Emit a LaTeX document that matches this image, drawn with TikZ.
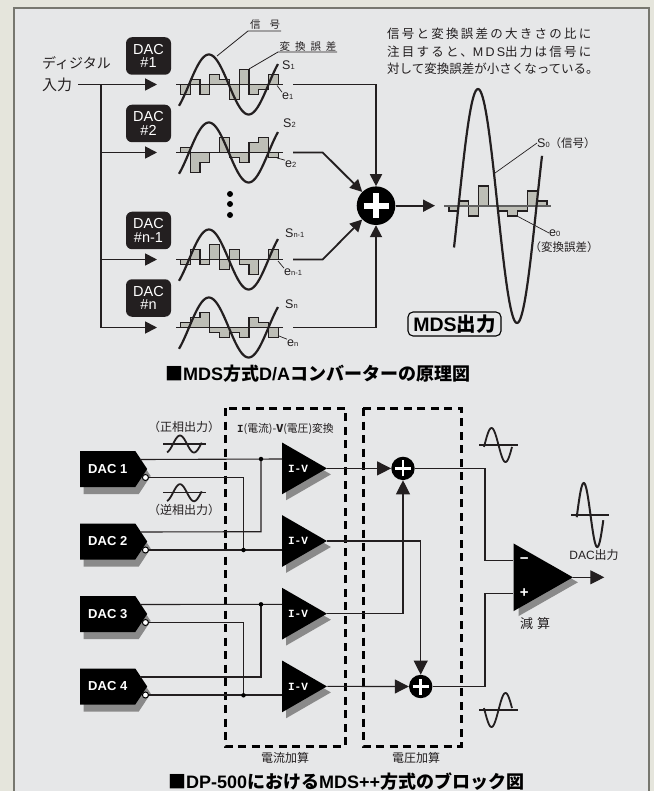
\documentclass[tikz,border=0pt]{standalone}
\usepackage{fontspec}
\setmainfont{Liberation Sans}
\setmonofont{Liberation Mono}
\newfontfamily\jp{Noto Sans CJK JP}
\newfontfamily\jpwide{Noto Sans CJK JP}[LetterSpace=18]
\newfontfamily\latinwide{Liberation Sans}[LetterSpace=18]
\usetikzlibrary{positioning, arrows.meta, shapes.geometric, shapes.symbols, shadows}
\definecolor{pagebg}{HTML}{E5E5DC}
\definecolor{panelbg}{HTML}{E6E7E8}
\definecolor{framecol}{HTML}{77776F}
\definecolor{barcol}{HTML}{BDBEB6}
\definecolor{inkcol}{HTML}{231F20}
\definecolor{shadowcol}{HTML}{8A8A8A}
\newcommand{\fs}[1]{\fontsize{#1}{#1}\selectfont}
\newcommand{\subsc}[1]{\raisebox{-0.5pt}{\fs{7.5}#1}}
\newcommand{\errsteps}[3]{
	\foreach \h [count=\i, remember=\h as \prev (initially 0)] in #3 {
		\fill[barcol] ({#1+(\i-1)*9.8},#2) rectangle ++(9.8,-\h);
		\draw[errline] ({#1+(\i-1)*9.8},{#2-\prev}) -- ({#1+(\i-1)*9.8},{#2-\h}) -- ({#1+\i*9.8},{#2-\h});
		\ifnum\i=10
			\draw[errline] ({#1+\i*9.8},{#2-\h}) -- ({#1+\i*9.8},#2);
		\fi
	}
}
\tikzstyle{wave}=[line width=2.2pt,inkcol,line join=round]
\tikzstyle{errline}=[draw=inkcol,line width=1.2pt,line cap=rect]
\tikzstyle{baseline}=[line width=1.2pt,inkcol]
\tikzstyle{sigline}=[line width=1.8pt,inkcol,line join=miter]
\tikzstyle{sigarrow}=[sigline,-{Triangle[length=12pt,width=12pt]}]
\tikzstyle{dacbox}=[fill=inkcol,rounded corners=6pt,minimum width=45pt,minimum height=37.5pt,inner sep=0pt,text=white,align=center,font=\fs{14.5}]
\tikzstyle{leader}=[line width=0.7pt,inkcol]
\tikzstyle{lbl}=[inner sep=0pt,text=inkcol,font=\fs{12.5}]
\tikzstyle{jplbl}=[inner sep=0pt,text=inkcol,font=\jp\fs{12}]
\tikzstyle{dacblock}=[signal,signal to=east,signal pointer angle=113,fill=black,text=white,minimum width=67pt,minimum height=36pt,inner sep=0pt,font=\bfseries\fs{13},drop shadow={shadow xshift=3.5pt,shadow yshift=-7pt,fill=shadowcol,opacity=1}]
\tikzstyle{ivamp}=[isosceles triangle,isosceles triangle stretches,fill=black,inner sep=0pt,minimum height=44.7pt,minimum width=51.6pt,drop shadow={shadow xshift=4pt,shadow yshift=-6pt,fill=shadowcol,opacity=1}]
\tikzstyle{ivtext}=[inner sep=0pt,text=white,font=\ttfamily\bfseries\fs{11}]
\tikzstyle{joint}=[circle,fill=black,inner sep=0pt,minimum size=4.5pt]
\tikzstyle{invdot}=[circle,fill=white,draw=black,line width=1pt,inner sep=0pt,minimum size=6pt]
\tikzstyle{wire}=[line width=1.1pt,inkcol]
\tikzstyle{wirearrow}=[wire,-{Triangle[length=14pt,width=14pt]}]
\tikzstyle{dashbox}=[line width=3pt,black,dash pattern=on 8pt off 5.5pt]
\tikzstyle{caption}=[inner sep=0pt,text=black,font=\bfseries\fs{18}]

\begin{document}
\begin{tikzpicture}[x=1pt,y=-1pt]
	\useasboundingbox (0,0) rectangle (654,791);
	\fill[pagebg] (0,0) rectangle (654,791);
	\draw[framecol,fill=panelbg,line width=1.2pt] (14,8) rectangle (649,800);

	\node[jplbl,anchor=west,font=\jp\fs{14}] (digi) at (42,63) {ディジタル};
	\node[jplbl,anchor=west,font=\jp\fs{15}] (input) at (42,84.5) {入力};
	\coordinate (trunk) at (101,84.5);
	\draw[sigline] (input.east) ++(6,0) -- (trunk);

	\foreach \n/\yb/\ybox/\lab/\bars in {
			1/84.5/56/\#1/{-10,5,-10,10,5,-15,15,-10,-5,10},
			2/152.5/123.5/\#2/{5,-20,-10,0,15,-5,-10,10,15,-5},
			3/259.5/230.5/\#n-1/{-5,10,-5,15,-10,10,-5,-15,0,10},
			4/327.5/298/\#n/{5,10,15,-5,-10,-5,-10,10,5,-10}} {
		\node[dacbox] (dac\n) at (148.5,\ybox) {DAC\\[-1pt]\lab};
		\coordinate (in\n) at (157,\yb);
		\coordinate (out\n) at (293,\yb);
		\draw[sigarrow] (101,\yb) -- (in\n);
		\errsteps{180.3}{\yb}{\bars}
		\draw[baseline] (176,\yb) -- (283,\yb);
		\draw[wave] plot[domain=179:278,samples=70] (\x,{\yb-30*sin((\x-189)/79.5*360)});
	}
	\draw[sigline] (trunk) -- (101,327.5);

	\foreach \n/\sx/\sy/\ex/\ey/\lx/\ly/\stxt/\etxt in {
			1/282/65/282/96/277/85.5/1/1,
			2/283/123/285/164/277/158/2/2,
			3/285/233/284/272/278/261/n-1/n-1,
			4/285/304/287/343/279/336/n/n} {
		\node[lbl,anchor=west] (S\n) at (\sx,\sy) {S\subsc{\stxt}};
		\node[lbl,anchor=west] (e\n) at (\ex,\ey) {e\subsc{\etxt}};
		\coordinate (bar\n) at (\lx,\ly);
		\draw[leader] (bar\n) -- (e\n.north west);
	}

	\foreach \y in {194,204,215}
		\fill[black] (230,\y) circle (3);

	\node[circle,fill=black,inner sep=0pt,minimum size=38.6pt] (sum) at (376,205.7) {};
	\draw[white,line width=6pt] ([xshift=-12.5pt]sum.center) -- ([xshift=12.5pt]sum.center);
	\draw[white,line width=6pt] ([yshift=-12.5pt]sum.center) -- ([yshift=12.5pt]sum.center);
	\coordinate (bend2) at (322.7,152.5);
	\coordinate (bend3) at (322.7,259.5);
	\coordinate (sumout) at (435,205.7);
	\draw[sigarrow] (out1) -| (sum.north);
	\draw[sigarrow] (out2) -- (bend2) -- (sum.north west);
	\draw[sigarrow] (out3) -- (bend3) -- (sum.south west);
	\draw[sigarrow] (out4) -| (sum.south);
	\draw[sigarrow] (sum.east) -- (sumout);

	\node[jplbl,font=\jp\fs{10.5}] (sig) at (265,25) {信\hspace{9pt}号};
	\coordinate (sigwave) at (217,56);
	\coordinate (sigbend) at (248,31);
	\coordinate (sigend) at (281,31);
	\draw[line width=0.8pt,inkcol] (sigwave) -- (sigbend) -- (sigend);
	\node[jplbl,font=\jp\fs{10.5}] (err) at (308,47) {変\hspace{5pt}換\hspace{5pt}誤\hspace{5pt}差};
	\coordinate (errbar) at (249,69);
	\coordinate (errbend) at (278,52);
	\coordinate (errend) at (337,52);
	\draw[line width=0.8pt,inkcol] (errbar) -- (errbend) -- (errend);

	\node[jplbl,anchor=west,font=\fs{12.5}] (note) at (387,51.5) {\parbox{215pt}{\baselineskip=17.5pt
		{\jpwide 信号と変換誤差の大きさの比に}\\
		{\jpwide 注目すると、}{\latinwide MDS}{\jpwide 出力は信号に}\\
		{\jp 対して変換誤差が小さくなっている。}}};

	\errsteps{449}{206}{{-5,5,-10,20,0,-5,-10,-5,15,5}}
	\draw[baseline,shadowcol!70!black] (444,206) -- (551,206);
	\draw[wave] plot[domain=454:542,samples=90] (\x,{206-117*sin((\x-458.5)/78*360)});
	\node[lbl,anchor=west] (S0) at (537,143) {S\subsc{0}{\jp\fs{11.5}（信号）}};
	\coordinate (S0wave) at (495,173);
	\draw[leader] (S0wave) -- (S0.west);
	\node[lbl,anchor=west] (e0) at (549,233) {e\subsc{0}};
	\coordinate (e0bar) at (517,216);
	\draw[leader] (e0bar) -- (e0.west);
	\node[jplbl,font=\jp\fs{11.5}] (e0txt) at (564,247) {（変換誤差）};
	\node[draw=black,line width=1.1pt,rounded corners=5pt,minimum width=93pt,minimum height=24pt,inner sep=0pt,font=\bfseries\fs{19.5}] (mds) at (454.5,324) {MDS{\jp 出力}};
	\node[caption,anchor=west] (cap1) at (165,374) {{\jp ■}MDS{\jp 方式}D/A{\jp コンバーターの原理図}};

	\draw[dashbox] (225,408) rectangle (345,746);
	\draw[dashbox] (363,408) rectangle (461,746);

	\foreach \n/\yd/\ya in {1/469/468.4,2/541.5/541,3/614/613.7,4/686.5/686.4} {
		\node[dacblock,anchor=west] (dac\n b) at (80,\yd) {DAC \n};
		\coordinate (pos\n) at ([shift={(-7pt,9.5pt)}]dac\n b.east);
		\coordinate (inv\n) at ([shift={(-2pt,-8.5pt)}]dac\n b.east);
		\node[ivamp,anchor=lower side] (iv\n) at (282,\ya) {};
		\node[ivtext] (ivlab\n) at (298,\ya) {I-V};
	}

	\coordinate (up1) at (261,459);
	\coordinate (up2) at (261,531.7);
	\coordinate (dn1) at (243.5,477);
	\coordinate (dn2) at (243.5,550);
	\coordinate (up3) at (261,604.3);
	\coordinate (up4) at (261,677);
	\coordinate (dn3) at (243.5,622.7);
	\coordinate (dn4) at (243.5,695.3);
	\draw[wire] (pos1) -- (up1 -| iv1.lower side);
	\draw[wire] (pos2) -- (up2) -- (up1);
	\draw[wire] (inv1) -- (inv1 -| dn1) -- (dn2);
	\draw[wire] (inv2) -- (inv2 -| iv2.lower side);
	\draw[wire] (pos3) -- (up3 -| iv3.lower side);
	\draw[wire] (pos4) -- (up4) -- (up3);
	\draw[wire] (inv3) -- (inv3 -| dn3) -- (dn4);
	\draw[wire] (inv4) -- (inv4 -| iv4.lower side);
	\foreach \c in {up1,dn2,up3,dn4}
		\node[joint] (j\c) at (\c) {};
	\foreach \n in {1,2,3,4}
		\node[invdot] (invdot\n) at (inv\n) {};

	\node[circle,fill=black,inner sep=0pt,minimum size=23.4pt] (sumA) at (403,468.4) {};
	\node[circle,fill=black,inner sep=0pt,minimum size=23.4pt] (sumB) at (420.7,686.5) {};
	\foreach \s in {sumA,sumB} {
		\draw[white,line width=2.6pt] ([xshift=-8pt]\s.center) -- ([xshift=8pt]\s.center);
		\draw[white,line width=2.6pt] ([yshift=-8pt]\s.center) -- ([yshift=8pt]\s.center);
	}
	\node[isosceles triangle,isosceles triangle stretches,fill=black,inner sep=0pt,minimum height=59.4pt,minimum width=67.7pt,anchor=lower side,drop shadow={shadow xshift=5pt,shadow yshift=-5pt,fill=shadowcol,opacity=1}] (subamp) at (513.3,577.3) {};
	\node[text=white,inner sep=0pt,font=\bfseries\fs{15}] (minus) at (524.3,560.5) {\textminus};
	\node[text=white,inner sep=0pt,font=\bfseries\fs{15}] (plus) at (524.3,593) {+};
	\coordinate (midA) at (485,468.4);
	\coordinate (midB) at (485,686.5);
	\coordinate (subA) at (513.3,560.7);
	\coordinate (subB) at (513.3,593.3);
	\coordinate (dacout) at (604.3,577.3);
	\draw[wirearrow] (iv1.apex) -- (sumA.west);
	\draw[wirearrow] (iv3.apex) -| (sumA.south);
	\draw[wirearrow] (iv2.apex) -| (sumB.north);
	\draw[wirearrow] (iv4.apex) -- (sumB.west);
	\draw[wire] (sumA.east) -- (midA) |- (subA);
	\draw[wire] (sumB.east) -- (midB) |- (subB);
	\draw[wirearrow] (subamp.apex) -- (dacout);

	\foreach \yb/\xs/\xe/\za/\amp/\per/\lw/\xl/\xr in {
			444/167/201.7/173/8.5/28/1.8/163/206,
			492.7/167/201.7/187/-8.5/28/1.8/163/206,
			445/484/512/484.5/17/28/1.8/479/518,
			710/484/512/484.5/-17/28/1.8/479/518,
			515/576.7/603.3/577/32/27/2/571/609} {
		\draw[wire] (\xl,\yb) -- (\xr,\yb);
		\draw[line width=\lw pt,inkcol] plot[domain=\xs:\xe,samples=50] (\x,{\yb-\amp*sin((\x-\za)/\per*360)});
	}

	\node[jplbl] (pos) at (184,427) {（正相出力）};
	\node[jplbl] (neg) at (184,510) {（逆相出力）};
	\node[jplbl,font=\jp\fs{10.8}] (ivtitle) at (285.5,429) {{\ttfamily\bfseries I}(電流)-{\bfseries V}(電圧)変換};
	\node[jplbl] (cursum) at (285,758) {電流加算};
	\node[jplbl] (volsum) at (416,758) {電圧加算};
	\node[jplbl,font=\jp\fs{13}] (sublab) at (535,624) {減\hspace{4pt}算};
	\node[jplbl,font=\fs{12}] (daclab) at (594,555) {DAC{\jp 出力}};
	\node[caption,anchor=west] (cap2) at (168,781.5) {{\jp ■}DP-500{\jp における}MDS++{\jp 方式のブロック図}};
\end{tikzpicture}
\end{document}
